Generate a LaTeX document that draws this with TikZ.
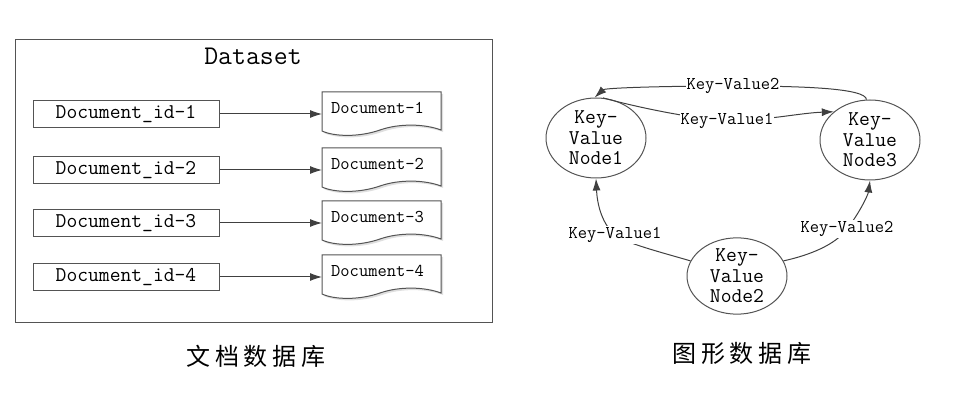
\documentclass[tikz,border=0pt]{standalone}
\usepackage{fontspec}
\newfontfamily\cjk[LetterSpace=19]{Noto Sans CJK SC}
\usetikzlibrary{shapes.geometric,arrows.meta}
\definecolor{linec}{gray}{0.33}
\definecolor{edgec}{gray}{0.25}
\tikzset{
  idbox/.style={draw=linec, line width=1pt, rectangle, minimum width=186pt, minimum height=27pt, inner sep=0pt, font=\ttfamily\fontsize{21}{23}\selectfont},
  doctext/.style={anchor=west, inner sep=0pt, font=\ttfamily\fontsize{18}{20}\selectfont},
  docshape/.style={draw=linec, line width=1pt, fill=white},
  kvnode/.style={draw=linec, line width=1pt, ellipse, minimum width=100pt, minimum height=80pt, inner sep=0pt, align=center, font=\ttfamily\fontsize{21}{20.5}\selectfont},
  lbl/.style={fill=white, inner sep=1pt, font=\ttfamily\fontsize{18}{20}\selectfont},
  arr/.style={draw=edgec, line width=1pt, -{Latex[length=12pt,width=8pt]}},
  caption/.style={font=\cjk\fontsize{24}{26}\selectfont, inner sep=0pt}
}
\begin{document}
\begin{tikzpicture}[x=1pt,y=-1pt]
\useasboundingbox (0,0) rectangle (966,403);
% left panel
\node[draw=linec, line width=1pt, rectangle, minimum width=477pt, minimum height=283pt, anchor=north west, inner sep=0pt] (frame) at (15,39) {};
\node[font=\ttfamily\fontsize{27}{29}\selectfont, inner sep=0pt] (title) at (253,56) {Dataset};
\foreach \i/\yc in {1/114,2/170,3/223,4/277}{
  \node[idbox] (id\i) at (126,\yc) {Document\_id-\i};
  \pgfmathsetmacro{\t}{\yc-22}
  \fill[gray!25] (324,\t+2) -- (443,\t+2) -- (443,\t+40) .. controls (427,\t+34) and (402,\t+33) .. (382,\t+40) .. controls (362,\t+47) and (337,\t+47) .. (324,\t+41) -- cycle;
  \draw[docshape] (322,\t) -- (441,\t) -- (441,\t+38) .. controls (425,\t+32) and (400,\t+31) .. (380,\t+38) .. controls (360,\t+45) and (335,\t+45) .. (322,\t+39) -- cycle;
  \node[doctext] (doc\i) at (331,\t+16) {Document-\i};
  \draw[arr] (id\i.east) -- (322,\yc);
}
\node[caption] (cap1) at (256,356) {文档数据库};
% right panel
\node[kvnode] (n1) at (596,138) {Key-\\Value\\Node1};
\node[kvnode] (n3) at (870,140) {Key-\\Value\\Node3};
\node[kvnode, minimum height=74pt] (n2) at (737,276) {Key-\\Value\\Node2};
\draw[arr] (n3.95) .. controls (866,88) and (800,86) .. (733,86) node[lbl] (l1) {Key-Value2} .. controls (660,86) and (605,88) .. (n1.92);
\draw[arr] (n1.80) .. controls (640,108) and (690,118) .. (727,121) node[lbl] (l2) {Key-Value1} .. controls (770,120) and (800,113) .. (n3.142);
\draw[arr] (n2.162) .. controls (660,252) and (625,243) .. (615,235) node[lbl] (l3) {Key-Value1} .. controls (600,222) and (597,200) .. (n1.south);
\draw[arr] (n2.18) .. controls (810,255) and (835,245) .. (847,229) node[lbl] (l4) {Key-Value2} .. controls (860,212) and (868,195) .. (n3.south);
\node[caption] (cap2) at (742,353) {图形数据库};
\end{tikzpicture}
\end{document}
